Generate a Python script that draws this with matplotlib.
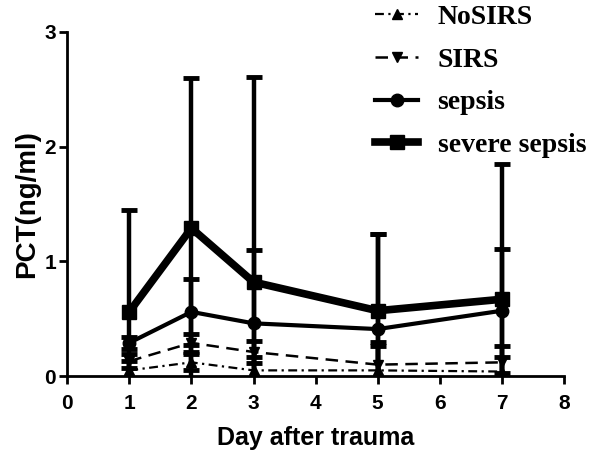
import numpy as np
import matplotlib.pyplot as plt

days = [1, 2, 3, 5, 7]

nosirs = [0.05, 0.12, 0.05, 0.05, 0.04]
nosirs_sd = [0.08, 0.07, 0.12, 0.21, 0.13]
sirs = [0.13, 0.29, 0.21, 0.10, 0.12]
sirs_sd = [0.06, 0.08, 0.10, 0.20, 0.14]
sepsis = [0.29, 0.56, 0.46, 0.41, 0.57]
sepsis_sd = [0.05, 0.29, 0.64, 0.83, 0.54]
severe = [0.56, 1.29, 0.82, 0.57, 0.67]
severe_sd = [0.89, 1.31, 1.79, 0.67, 1.18]

plt.rcParams['font.family'] = ['Liberation Sans', 'DejaVu Sans']

fig = plt.figure(figsize=(6, 4.57), dpi=100)
ax = fig.add_axes([0.112, 0.177, 0.828, 0.753])

series = [
    ('NoSIRS', nosirs, nosirs_sd, '^', (0, (4, 2, 1, 2)), 1.6, 7),
    ('SIRS', sirs, sirs_sd, 'v', (0, (5, 3)), 1.8, 7),
    ('sepsis', sepsis, sepsis_sd, 'o', '-', 3.0, 9),
    ('severe sepsis', severe, severe_sd, 's', '-', 5.5, 10),
]

handles = []
for name, y, sd, mk, ls, lw, ms in series:
    eb = ax.errorbar(days, y, yerr=sd, color='black', marker=mk, markersize=ms,
                     linestyle=ls, linewidth=lw, elinewidth=3.2, capsize=6,
                     capthick=3.5, clip_on=True)
    handles.append(eb.lines[0])

ax.set_xlim(0, 8)
ax.set_ylim(0, 3)
ax.set_xticks(range(0, 9))
ax.set_yticks([0, 1, 2, 3])
for s in ['top', 'right']:
    ax.spines[s].set_visible(False)
for s in ['left', 'bottom']:
    ax.spines[s].set_linewidth(2)
ax.tick_params(width=2, length=6, labelsize=15, direction='out')
ax.tick_params(axis='x', pad=7)
ax.tick_params(axis='y', pad=2)
for lab in ax.get_xticklabels() + ax.get_yticklabels():
    lab.set_fontweight('bold')
ax.set_xlabel('Day after trauma', fontsize=18, fontweight='bold', labelpad=9)
ax.set_ylabel('PCT(ng/ml)', fontsize=20, fontweight='bold', labelpad=3)

fig.legend(handles, [s[0] for s in series], loc='upper left',
           bbox_to_anchor=(0.625, 0.99), frameon=False, handlelength=1.55,
           handletextpad=0.7, borderpad=0, borderaxespad=0, labelspacing=0.62,
           prop={'family': 'Liberation Serif', 'weight': 'bold', 'size': 20})

fig.savefig('out.png', dpi=100)
